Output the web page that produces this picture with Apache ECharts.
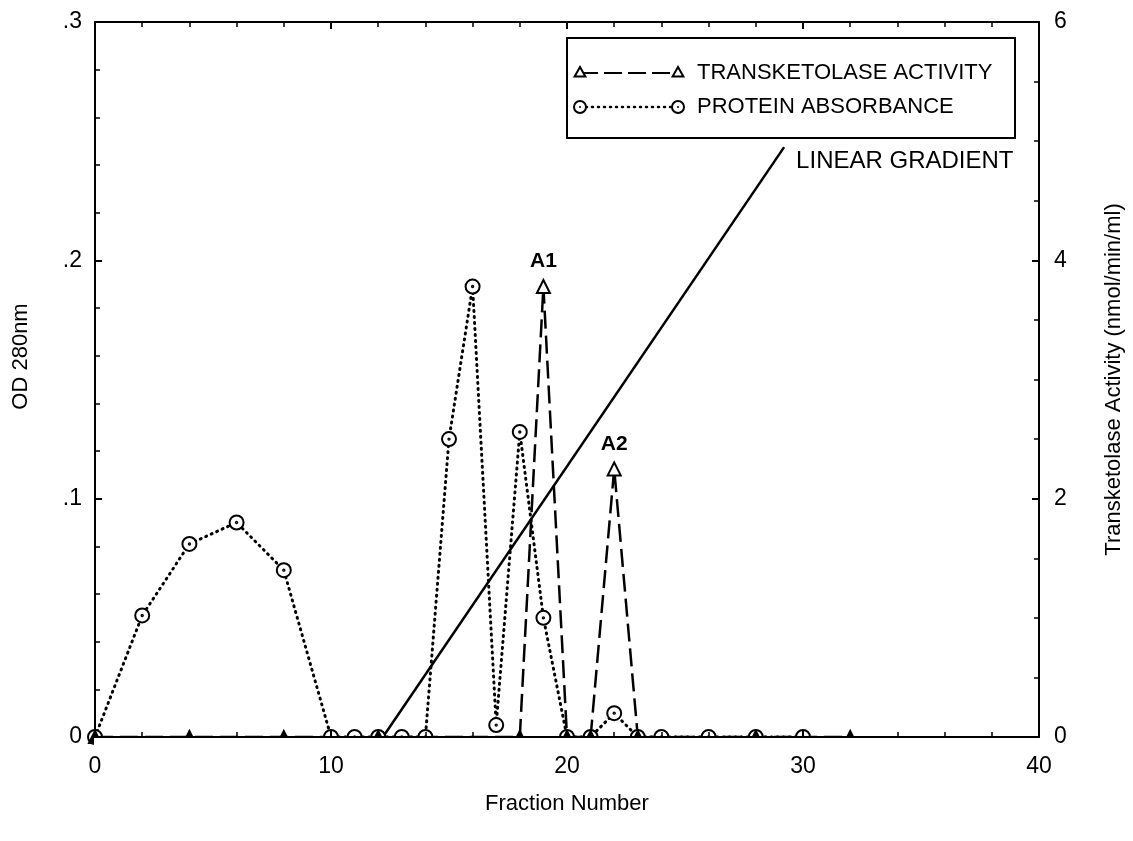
<!DOCTYPE html>
<html>
<head>
<meta charset="utf-8">
<script src="https://cdn.jsdelivr.net/npm/echarts@6/dist/echarts.min.js"></script>
<style>
  html, body { margin: 0; padding: 0; background: #fff; }
  #chart { width: 1133px; height: 841px; }
</style>
</head>
<body>
<div id="chart"></div>
<script>
// Fraction numbers and OD 280nm readings (protein absorbance, left axis)
const proteinFraction = [0, 2, 4, 6, 8, 10, 11, 12, 13, 14, 15, 16, 17, 18, 19, 20, 21, 22, 23, 24, 26, 28, 30];
const proteinOD = [0, 0.051, 0.081, 0.09, 0.07, 0, 0, 0, 0, 0, 0.125, 0.189, 0.005, 0.128, 0.05, 0, 0, 0.01, 0, 0, 0, 0, 0];

// Fraction numbers and transketolase activity (nmol/min/ml, right axis)
const tkFraction = [0, 4, 8, 12, 18, 19, 20, 21, 22, 23, 28, 32];
const tkActivity = [0, 0, 0, 0, 0, 3.78, 0, 0, 2.25, 0, 0, 0];
const tkPeakTags = ['', '', '', '', '', 'A1', '', '', 'A2', '', '', ''];

// Linear gradient: start and end (fraction, right-axis units)
const gradientFraction = [12.2, 29.2];
const gradientLevel = [0, 4.95];
const gradientText = 'LINEAR GRADIENT';

// Axis ranges and tick labels
const xRange = [0, 40];
const odRange = [0, 0.3];
const activityRange = [0, 6];
const odTickLabels = { '0': '0', '0.1': '.1', '0.2': '.2', '0.3': '.3' };

const legendNames = ['TRANSKETOLASE ACTIVITY', 'PROTEIN ABSORBANCE'];

const FONT = '"Liberation Sans", Arial, Helvetica, sans-serif';
const INK = '#000';

// ring with a centre dot, used for protein absorbance points
const ringSymbol = 'path://M0,10A10,10,0,1,1,20,10A10,10,0,1,1,0,10ZM9,10A1,1,0,1,1,11,10A1,1,0,1,1,9,10Z';

const chart = echarts.init(document.getElementById('chart'), null, { renderer: 'canvas' });

const grid = { left: 95, right: 93, top: 22, bottom: 104 };

const axisCommon = {
  axisLine: { show: true, onZero: false, lineStyle: { color: INK, width: 2 } },
  axisTick: { show: true, inside: true, length: 7, lineStyle: { color: INK, width: 2 } },
  minorTick: { show: true, length: 5, lineStyle: { color: INK, width: 1.5 } },
  splitLine: { show: false },
  minorSplitLine: { show: false },
  axisLabel: { color: INK, fontSize: 23, fontFamily: FONT },
  z: 5
};

const nameStyle = { color: INK, fontSize: 22, fontFamily: FONT };

const proteinData = proteinFraction.map((f, i) => [f, proteinOD[i]]);
const tkData = tkFraction.map((f, i) => {
  const v = tkActivity[i];
  const item = { value: [f, v] };
  if (v === 0) {
    item.symbolSize = 12;
    item.itemStyle = { color: INK, borderColor: INK };
  }
  if (tkPeakTags[i]) {
    item.label = {
      show: true, position: 'top', distance: 7,
      formatter: tkPeakTags[i],
      color: INK, fontSize: 21, fontFamily: FONT, fontWeight: 'bold'
    };
  }
  return item;
});
const gradientData = gradientFraction.map((f, i) => [f, gradientLevel[i]]);

// plot-area geometry for the legend box and the strip that hides marks below the baseline
const plotLeft = grid.left, plotRight = 1133 - grid.right, plotBottom = 841 - grid.bottom;

const legendBox = { x: 567, y: 38, w: 448, h: 100 };
const rowY = [73, 107];
const sampleX = [580, 678];
const textX = 697;
const legendFont = '22px ' + FONT;

function triangle(cx, cy, r) {
  return [[cx, cy - r], [cx + r * 0.9, cy + r * 0.6], [cx - r * 0.9, cy + r * 0.6]];
}

const legendGraphics = [
  { type: 'rect', shape: { x: legendBox.x, y: legendBox.y, width: legendBox.w, height: legendBox.h },
    style: { fill: '#fff', stroke: INK, lineWidth: 2 }, z: 20 },
  { type: 'line', shape: { x1: sampleX[0], y1: rowY[0], x2: sampleX[1], y2: rowY[0] },
    style: { stroke: INK, lineWidth: 2, lineDash: [18, 6] }, z: 21 },
  { type: 'polygon', shape: { points: triangle(sampleX[0], rowY[0], 6) },
    style: { fill: '#fff', stroke: INK, lineWidth: 2 }, z: 22 },
  { type: 'polygon', shape: { points: triangle(sampleX[1], rowY[0], 6) },
    style: { fill: '#fff', stroke: INK, lineWidth: 2 }, z: 22 },
  { type: 'text', x: textX, y: rowY[0], style: { text: legendNames[0], fill: INK, font: legendFont, textVerticalAlign: 'middle' }, z: 22 },
  { type: 'line', shape: { x1: sampleX[0], y1: rowY[1], x2: sampleX[1], y2: rowY[1] },
    style: { stroke: INK, lineWidth: 2.5, lineDash: [1, 5], lineCap: 'round' }, z: 21 },
  { type: 'circle', shape: { cx: sampleX[0], cy: rowY[1], r: 6 }, style: { fill: '#fff', stroke: INK, lineWidth: 2 }, z: 22 },
  { type: 'circle', shape: { cx: sampleX[1], cy: rowY[1], r: 6 }, style: { fill: '#fff', stroke: INK, lineWidth: 2 }, z: 22 },
  { type: 'circle', shape: { cx: sampleX[0], cy: rowY[1], r: 1 }, style: { fill: INK }, z: 23 },
  { type: 'circle', shape: { cx: sampleX[1], cy: rowY[1], r: 1 }, style: { fill: INK }, z: 23 },
  { type: 'text', x: textX, y: rowY[1], style: { text: legendNames[1], fill: INK, font: legendFont, textVerticalAlign: 'middle' }, z: 22 }
];

const option = {
  backgroundColor: '#fff',
  animation: false,
  textStyle: { fontFamily: FONT, color: INK },
  grid: grid,
  xAxis: [
    Object.assign({}, axisCommon, {
      type: 'value', position: 'bottom', min: xRange[0], max: xRange[1], interval: 10,
      minorTick: Object.assign({}, axisCommon.minorTick, { splitNumber: 5 }),
      axisLabel: Object.assign({}, axisCommon.axisLabel, { margin: 18 }),
      name: 'Fraction Number', nameLocation: 'middle', nameGap: 56,
      nameTextStyle: nameStyle
    }),
    Object.assign({}, axisCommon, {
      type: 'value', position: 'top', min: xRange[0], max: xRange[1], interval: 10,
      minorTick: Object.assign({}, axisCommon.minorTick, { splitNumber: 5 }),
      axisLabel: { show: false }
    })
  ],
  yAxis: [
    Object.assign({}, axisCommon, {
      type: 'value', position: 'left', min: odRange[0], max: odRange[1], interval: 0.1,
      minorTick: Object.assign({}, axisCommon.minorTick, { splitNumber: 5 }),
      axisLabel: Object.assign({}, axisCommon.axisLabel, {
        margin: 13,
        formatter: v => odTickLabels[String(Math.round(v * 10) / 10)] || ''
      }),
      name: 'OD 280nm', nameLocation: 'middle', nameGap: 63, nameRotate: 90,
      nameTextStyle: Object.assign({}, nameStyle, { padding: [0, 0, 0, 46] })
    }),
    Object.assign({}, axisCommon, {
      type: 'value', position: 'right', min: activityRange[0], max: activityRange[1], interval: 2,
      minorTick: Object.assign({}, axisCommon.minorTick, { splitNumber: 4 }),
      axisLabel: Object.assign({}, axisCommon.axisLabel, { margin: 15 }),
      name: 'Transketolase Activity (nmol/min/ml)', nameLocation: 'middle', nameGap: 64, nameRotate: 90,
      nameTextStyle: nameStyle
    })
  ],
  graphic: [
    // white strip just under the baseline so markers sitting on zero show only their upper half
    { type: 'rect', shape: { x: plotLeft - 1, y: plotBottom + 1, width: plotRight - plotLeft + 2, height: 14 },
      style: { fill: '#fff' }, z: 3, silent: true }
  ].concat(legendGraphics),
  series: [
    {
      name: legendNames[1], type: 'line', xAxisIndex: 0, yAxisIndex: 0,
      data: proteinData,
      symbol: ringSymbol, symbolSize: 14,
      itemStyle: { color: '#fff', borderColor: INK, borderWidth: 2 },
      lineStyle: { color: INK, width: 3, type: [1, 5], cap: 'round' },
      z: 2
    },
    {
      name: legendNames[0], type: 'line', xAxisIndex: 0, yAxisIndex: 1,
      data: tkData,
      symbol: 'triangle', symbolSize: 13,
      itemStyle: { color: '#fff', borderColor: INK, borderWidth: 2 },
      lineStyle: { color: INK, width: 2.5, type: [18, 7] },
      z: 2
    },
    {
      name: 'gradient', type: 'line', xAxisIndex: 0, yAxisIndex: 1,
      data: gradientData,
      symbol: 'none',
      lineStyle: { color: INK, width: 2.5 },
      endLabel: {
        show: true, formatter: gradientText, distance: 12, offset: [0, 14],
        color: INK, fontSize: 24, fontFamily: FONT
      },
      z: 1
    }
  ]
};

chart.setOption(option);
</script>
</body>
</html>
